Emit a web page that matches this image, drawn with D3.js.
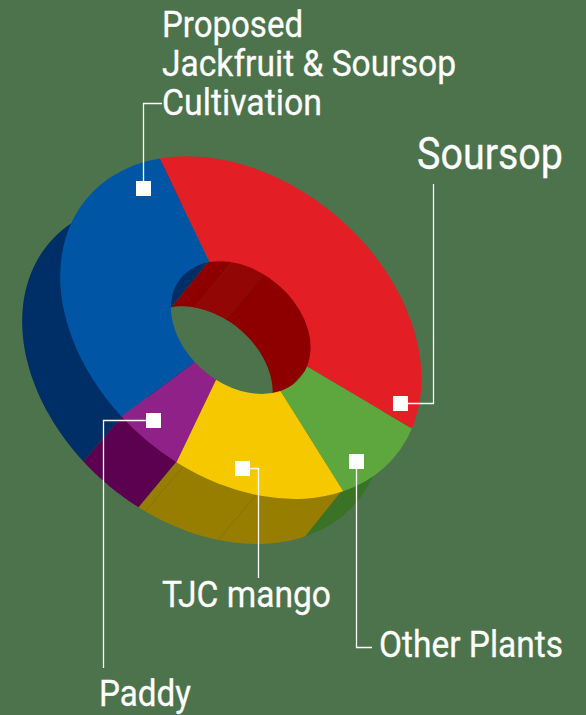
<!DOCTYPE html>
<html>
<head>
<meta charset="utf-8">
<script src="https://cdn.jsdelivr.net/npm/d3@7"></script>
<style>
  html, body { margin: 0; padding: 0; background: #4c734c; overflow: hidden; }
  text { font-family: Roboto, sans-serif; fill: #fff; stroke: #fff; stroke-width: 0.3; }
</style>
</head>
<body>
<div id="chart"></div>
<script>
// Share of land per crop (clockwise from Soursop)
const crops = ["Soursop", "Other Plants", "TJC mango", "Paddy", "Proposed"];
const shares = [37.6, 10.2, 15.4, 5.7, 31.1];
const topColors = ["#e31e24", "#5ea63e", "#f5c800", "#8f2188", "#0056a4"];
const wallColors = ["#8e0000", "#3a7226", "#977e00", "#5c0050", "#002e66"];

const width = 586, height = 715;

// tilted disc: unit circle -> screen
const cx = 240.8, cy = 327.6;
const tilt = 40 * Math.PI / 180;
const semiMajor = 201, semiMinor = 147;
const holeRatio = 0.387;
const depth = [-38, 45];
const startAngle = -58.2 * Math.PI / 180;
const deg = d3.scaleLinear().domain([0, 180]).range([0, Math.PI]);

function project(r, angle, dx = 0, dy = 0) {
    const x = semiMajor * r * Math.sin(angle);
    const y = -semiMinor * r * Math.cos(angle);
    return [
        cx + x * Math.cos(tilt) - y * Math.sin(tilt) + dx,
        cy + x * Math.sin(tilt) + y * Math.cos(tilt) + dy
    ];
}

const svg = d3.select("#chart").append("svg")
    .attr("width", width)
    .attr("height", height)
    .style("display", "block");

svg.append("rect").attr("width", width).attr("height", height).attr("fill", "#4c734c");

const pie = d3.pie().sort(null)
    .startAngle(startAngle)
    .endAngle(startAngle + 2 * Math.PI);
const slices = pie(shares);

const line = d3.line();

// side wall of one slice at radius r; the top edge is tucked under the face
// so the dark colour does not bleed along the rim
function wallPath(d, r, tuck) {
    const n = 60;
    const angles = d3.range(n + 1).map(i => d.startAngle + (d.endAngle - d.startAngle) * i / n);
    const top = angles.map(a => project(r * tuck, a));
    const bottom = angles.slice().reverse().map(a => project(r, a, depth[0], depth[1]));
    return line(top.concat(bottom)) + "Z";
}

const walls = svg.append("g");
[[1, 0.99], [holeRatio, 1.02]].forEach(([r, tuck]) => {
    walls.selectAll(null)
        .data(slices)
        .enter().append("path")
        .attr("d", d => wallPath(d, r, tuck))
        .attr("fill", (d, i) => wallColors[i]);
});

// the panel seams visible on the walls
const redSeams = [-38.7, -12];
const yellowSeams = [167, 143.6];

walls.append("path")
    .attr("d", wallPath({ startAngle: deg(redSeams[0]), endAngle: deg(redSeams[1]) }, holeRatio, 1.02))
    .attr("fill", "#930606");

const seams = [
    ...redSeams.map(a => [holeRatio, a]),
    ...yellowSeams.map(a => [1, a])
];
walls.selectAll(".seam")
    .data(seams)
    .enter().append("path")
    .attr("class", "seam")
    .attr("d", d => line([project(d[0], deg(d[1])), project(d[0], deg(d[1]), depth[0], depth[1])]))
    .attr("stroke", "#5a4a00")
    .attr("stroke-width", 0.7)
    .attr("stroke-opacity", 0.3);

// top face
const arc = d3.arc().innerRadius(holeRatio).outerRadius(1);
const skew = [
    semiMajor * Math.cos(tilt), semiMajor * Math.sin(tilt),
    -semiMinor * Math.sin(tilt), semiMinor * Math.cos(tilt),
    cx, cy
];
svg.append("g")
    .attr("transform", `matrix(${skew.join(",")})`)
    .selectAll("path")
    .data(slices)
    .enter().append("path")
    .attr("fill", (d, i) => topColors[i])
    .attr("d", arc);

// leaders and labels
const boxes = [[143.5, 188.5], [400.5, 403.5], [356.5, 461.5], [242.5, 468.5], [153.5, 420.5]];
const leaders = [
    [[143.5, 188.5], [143.5, 103.5], [162, 103.5]],
    [[400.5, 403.5], [433.5, 403.5], [433.5, 184]],
    [[356.5, 461.5], [356.5, 647.5], [372, 647.5]],
    [[242.5, 468.5], [258.5, 468.5], [258.5, 578]],
    [[153.5, 420.5], [103.5, 420.5], [103.5, 668]]
];

svg.selectAll(".leader")
    .data(leaders)
    .enter().append("path")
    .attr("class", "leader")
    .attr("d", line)
    .attr("fill", "none")
    .attr("stroke", "#fff")
    .attr("stroke-width", 1.3);

svg.selectAll(".box")
    .data(boxes)
    .enter().append("rect")
    .attr("class", "box")
    .attr("x", d => d[0] - 7.5)
    .attr("y", d => d[1] - 7.5)
    .attr("width", 15)
    .attr("height", 15)
    .attr("fill", "#fff");

const labelText = ["Proposed", "Jackfruit & Soursop", "Cultivation", "Soursop", "TJC mango", "Other Plants", "Paddy"];
const labelX = [162, 162, 162, 417, 162, 379, 99];
const labelY = [37, 76, 115, 169, 607, 657, 706];
const labelW = [141, 294, 160, 146, 169, 184, 92];
const labelSize = [36, 36, 36, 45, 37, 36, 36];

svg.selectAll(".label")
    .data(labelText)
    .enter().append("text")
    .attr("class", "label")
    .attr("x", (d, i) => labelX[i])
    .attr("y", (d, i) => labelY[i])
    .attr("font-size", (d, i) => labelSize[i])
    .attr("textLength", (d, i) => labelW[i])
    .attr("lengthAdjust", "spacingAndGlyphs")
    .text(d => d);
</script>
</body>
</html>
